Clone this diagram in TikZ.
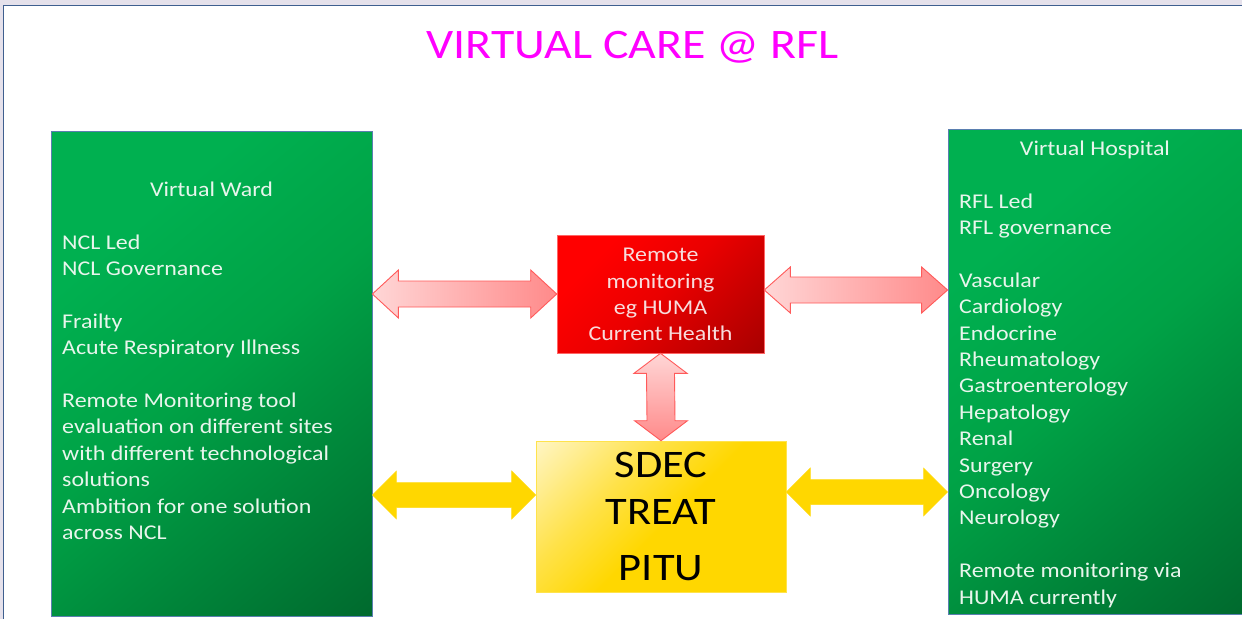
\documentclass[tikz,border=0pt]{standalone}
\usepackage{fontspec}
\setmainfont{Carlito}[FakeStretch=1.14]
\usetikzlibrary{calc}
\definecolor{frameband}{HTML}{E5E1EB}
\definecolor{frameline}{HTML}{3F5F8F}
\definecolor{gtop}{HTML}{00B050}
\definecolor{gmid}{HTML}{00A246}
\definecolor{gbot}{HTML}{006A2E}
\definecolor{gborder}{HTML}{5A7FB0}
\definecolor{gtextc}{HTML}{E8F5EC}
\definecolor{rtop}{HTML}{FF0000}
\definecolor{rmid}{HTML}{EA0000}
\definecolor{rbot}{HTML}{A80000}
\definecolor{rtextc}{HTML}{F8DCDC}
\definecolor{ytop}{HTML}{FFF6C8}
\definecolor{ymid}{HTML}{FFE24A}
\definecolor{ybot}{HTML}{FFD700}
\definecolor{gold}{HTML}{FFD700}
\definecolor{pinkA}{HTML}{FFD6D6}
\definecolor{pinkB}{HTML}{FF8A8A}
\definecolor{pinkline}{HTML}{FF5A5A}
\definecolor{titlec}{HTML}{FF00FF}
\pgfdeclareverticalshading{greensh}{100bp}{color(0bp)=(gbot); color(15bp)=(gbot); color(50bp)=(gmid); color(70bp)=(gtop); color(100bp)=(gtop)}
\pgfdeclareverticalshading{redsh}{100bp}{color(0bp)=(rbot); color(15bp)=(rbot); color(50bp)=(rmid); color(72bp)=(rtop); color(100bp)=(rtop)}
\pgfdeclareverticalshading{yellowsh}{100bp}{color(0bp)=(ybot); color(48bp)=(ybot); color(64bp)=(ymid); color(86bp)=(ytop); color(100bp)=(ytop)}
\tikzset{
  greenbox/.style={draw=gborder, line width=0.8pt, shading=greensh, shading angle=40, inner sep=0pt},
  redbox/.style={draw=red!60, line width=0.6pt, shading=redsh, shading angle=45, inner sep=0pt},
  yellowbox/.style={draw=ybot!70!white, line width=0.6pt, shading=yellowsh, shading angle=45, inner sep=0pt},
  gtext/.style={text=gtextc, inner sep=0pt, font=\fontsize{21}{26.4}\selectfont},
  rtext/.style={text=rtextc, inner sep=0pt, font=\fontsize{21}{26.4}\selectfont},
  ytext/.style={text=black, inner sep=0pt, font=\fontsize{39}{47}\selectfont},
  titletext/.style={text=titlec, inner sep=0pt, font=\fontsize{42}{50}\selectfont},
  pinkarrowh/.style={draw=pinkline, line width=0.9pt, shading=axis, left color=pinkA, right color=pinkB},
  pinkarrowv/.style={draw=pinkline, line width=0.9pt, shading=axis, top color=pinkA, bottom color=pinkB},
  goldarrow/.style={fill=gold, draw=gold!90!white, line width=0.5pt}
}
% horizontal double arrow: style, left tip, right tip, head length, head half width, shaft half width
\newcommand{\harr}[6]{%
  \draw[#1] let \p1=#2, \p2=#3 in
    (\x1,\y1) -- (\x1+#4,\y1+#5) -- (\x1+#4,\y1+#6) -- (\x2-#4,\y2+#6) -- (\x2-#4,\y2+#5)
    -- (\x2,\y2) -- (\x2-#4,\y2-#5) -- (\x2-#4,\y2-#6) -- (\x1+#4,\y1-#6) -- (\x1+#4,\y1-#5) -- cycle;}
% vertical double arrow: style, top tip, bottom tip, head length, head half width, shaft half width
\newcommand{\varr}[6]{%
  \draw[#1] let \p1=#2, \p2=#3 in
    (\x1,\y1) -- (\x1+#5,\y1-#4) -- (\x1+#6,\y1-#4) -- (\x2+#6,\y2+#4) -- (\x2+#5,\y2+#4)
    -- (\x2,\y2) -- (\x2-#5,\y2+#4) -- (\x2-#6,\y2+#4) -- (\x1-#6,\y1-#4) -- (\x1-#5,\y1-#4) -- cycle;}
\begin{document}
\begin{tikzpicture}[x=1pt,y=-1pt]
\useasboundingbox (0,0) rectangle (1242,619);
\fill[white] (0,0) rectangle (1242,619);
\fill[frameband] (0,0) rectangle (1242,5);
\fill[frameband] (0,0) rectangle (3,619);
\draw[frameline, line width=1.2pt] (3.6,619) -- (3.6,5.6) -- (1242,5.6);

\node[titletext, anchor=base] (title) at (632.5,58.5) {VIRTUAL CARE @ RFL};

% boxes
\node[greenbox, minimum width=321pt, minimum height=485pt] (ward) at (211.5,373.5) {};
\node[greenbox, minimum width=296pt, minimum height=485pt] (hosp) at (1096,371.5) {};
\node[redbox, minimum width=207pt, minimum height=118pt] (remote) at (660.5,294) {};
\node[yellowbox, minimum width=250pt, minimum height=151pt] (sdec) at (661,516.5) {};

% texts
\node[gtext, anchor=base] (wardhead) at (211.5,196) {Virtual Ward};
\node[gtext, anchor=base west] (wardlist) at (62,249) {\parbox[t]{305pt}{NCL Led\\NCL Governance\\[26.4pt]Frailty\\Acute Respiratory Illness\\[26.4pt]Remote Monitoring tool\\evaluation on different sites\\with different technological\\solutions\\Ambition for one solution\\across NCL}};

\node[gtext, anchor=base] (hosphead) at (1095,155.7) {Virtual Hospital};
\node[gtext, anchor=base west] (hosplist) at (959,208) {\parbox[t]{280pt}{RFL Led\\RFL governance\\[26.4pt]Vascular\\Cardiology\\Endocrine\\Rheumatology\\Gastroenterology\\Hepatology\\Renal\\Surgery\\Oncology\\Neurology\\[26.4pt]Remote monitoring via\\HUMA currently}};

\node[rtext, anchor=base] (remotetext) at (660.5,261.7) {\parbox[t]{200pt}{\centering Remote\\monitoring\\eg HUMA\\Current Health}};

\node[ytext, anchor=base] (sdectext) at (661,477.5) {\parbox[t]{240pt}{\centering SDEC\\TREAT\\[9pt]PITU}};

% connectors
\coordinate (ra) at ([yshift=4pt]remote.east);
\coordinate (rb) at (hosp.west |- ra);
\coordinate (ya) at ([yshift=21.5pt]sdec.west);
\coordinate (yb) at ([yshift=24.5pt]sdec.east);

\harr{pinkarrowh}{(ward.east |- remote.west)}{(remote.west)}{26pt}{24pt}{13pt}
\harr{pinkarrowh}{(ra)}{(rb)}{26pt}{23pt}{13pt}
\varr{pinkarrowv}{(remote.south)}{(sdec.north)}{20pt}{26.5pt}{14pt}
\harr{goldarrow}{(ward.east |- ya)}{(ya)}{24pt}{24pt}{12.5pt}
\harr{goldarrow}{(yb)}{(hosp.west |- yb)}{24pt}{24pt}{12.5pt}
\end{tikzpicture}
\end{document}
